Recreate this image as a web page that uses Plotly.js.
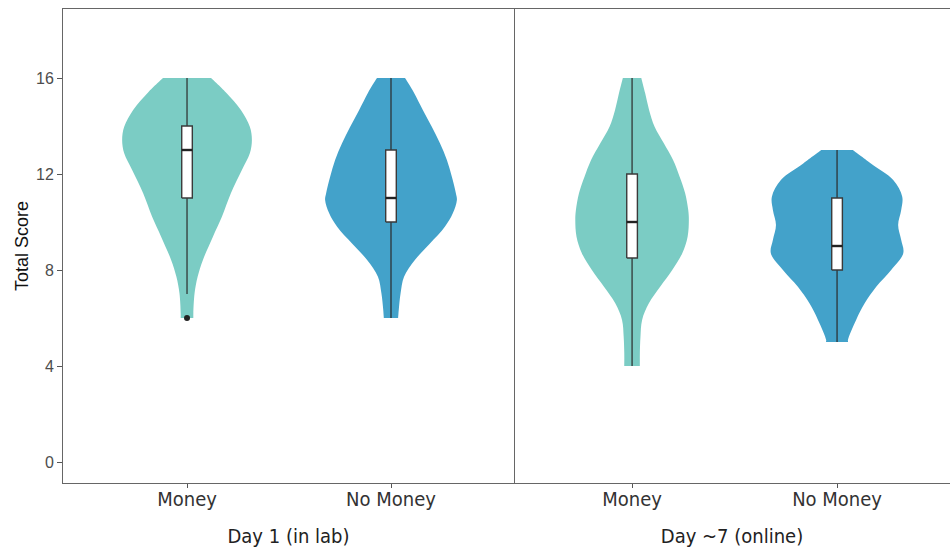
<!DOCTYPE html>
<html>
<head>
<meta charset="utf-8">
<script src="https://cdn.plot.ly/plotly-3.0.1.min.js"></script>
<style>html,body{margin:0;padding:0;background:#fff;}#chart{width:950px;height:548px;}</style>
</head>
<body>
<div id="chart"></div>
<script>
// ---- data ----
const categories = ['Money', 'No Money'];
const panels = ['Day 1 (in lab)', 'Day ~7 (online)'];
const yTicks = [0, 4, 8, 12, 16];

// violin outlines: score levels and half-width of density (category units)
const d1MoneyScore = [6, 6.2, 7.03, 7.72, 8.42, 9.39, 10.22, 11.2, 12.17, 12.86, 13.42, 13.97, 14.67, 15.4, 16];
const d1MoneyHalf  = [0.031, 0.031, 0.037, 0.052, 0.078, 0.127, 0.171, 0.215, 0.269, 0.308, 0.318, 0.308, 0.264, 0.191, 0.118];

const d1NoMoneyScore = [6, 6.33, 7.03, 7.72, 8.42, 9.1, 9.8, 10.36, 10.92, 11.2, 11.9, 12.58, 13.28, 13.97, 14.67, 15.4, 16];
const d1NoMoneyHalf  = [0.035, 0.038, 0.047, 0.064, 0.117, 0.191, 0.264, 0.303, 0.323, 0.318, 0.298, 0.274, 0.240, 0.200, 0.156, 0.112, 0.069];

const d7MoneyScore = [4, 4.53, 5.22, 5.92, 6.61, 7.3, 8.0, 8.7, 9.39, 10.08, 10.5, 11.2, 11.89, 12.58, 13.28, 13.97, 14.67, 15.36, 16];
const d7MoneyHalf  = [0.038, 0.038, 0.041, 0.049, 0.082, 0.137, 0.196, 0.245, 0.271, 0.277, 0.274, 0.259, 0.232, 0.200, 0.155, 0.110, 0.083, 0.064, 0.045];

const d7NoMoneyScore = [5, 5.08, 5.92, 6.6, 7.3, 8.0, 8.7, 9.25, 9.875, 10.5, 11.05, 11.75, 12.44, 13];
const d7NoMoneyHalf  = [0.054, 0.053, 0.093, 0.134, 0.191, 0.264, 0.323, 0.313, 0.298, 0.313, 0.318, 0.274, 0.165, 0.077];

// box statistics: [lower whisker, q1, median, q3, upper whisker]
const d1MoneyBox   = [7, 11, 13, 14, 16];
const d1NoMoneyBox = [6, 10, 11, 13, 16];
const d7MoneyBox   = [4, 8.5, 10, 12, 16];
const d7NoMoneyBox = [5, 8, 9, 11, 13];
const d1MoneyOutliers = [6];

const colors = ['#7bccc4', '#43a2ca'];
const BOXW = 0.052;

function violin(pos, score, half, color, xa, ya) {
  const n = score.length, xs = [], ys = [];
  const add = (x, y) => { xs.push(x); ys.push(y); };
  add(pos - half[0], score[0]);
  add(pos + half[0], score[0]); add(pos + half[0], score[0]);
  for (let i = 1; i < n - 1; i++) add(pos + half[i], score[i]);
  add(pos + half[n - 1], score[n - 1]); add(pos + half[n - 1], score[n - 1]);
  add(pos - half[n - 1], score[n - 1]); add(pos - half[n - 1], score[n - 1]);
  for (let i = n - 2; i >= 1; i--) add(pos - half[i], score[i]);
  add(pos - half[0], score[0]); add(pos - half[0], score[0]);
  return {type: 'scatter', mode: 'lines', x: xs, y: ys, fill: 'toself', fillcolor: color,
          line: {width: 0, shape: 'spline', smoothing: 1, simplify: false, color: color}, hoverinfo: 'skip',
          xaxis: xa, yaxis: ya, showlegend: false};
}
function boxTraces(pos, st, xa, ya) {
  const l = pos - BOXW / 2, r = pos + BOXW / 2;
  return [
    {type: 'scatter', mode: 'lines', x: [pos, pos, null, pos, pos], y: [st[0], st[1], null, st[3], st[4]],
     line: {color: '#2b2b2b', width: 1.2}, xaxis: xa, yaxis: ya, showlegend: false, hoverinfo: 'skip'},
    {type: 'scatter', mode: 'lines', x: [l, r, r, l, l], y: [st[1], st[1], st[3], st[3], st[1]],
     fill: 'toself', fillcolor: '#ffffff', line: {color: '#3a3a3a', width: 1.4},
     xaxis: xa, yaxis: ya, showlegend: false, hoverinfo: 'skip'},
    {type: 'scatter', mode: 'lines', x: [l, r], y: [st[2], st[2]],
     line: {color: '#222222', width: 2.4}, xaxis: xa, yaxis: ya, showlegend: false, hoverinfo: 'skip'}
  ];
}

const traces = [
  violin(0, d1MoneyScore, d1MoneyHalf, colors[0], 'x', 'y'),
  violin(1, d1NoMoneyScore, d1NoMoneyHalf, colors[1], 'x', 'y'),
  violin(0, d7MoneyScore, d7MoneyHalf, colors[0], 'x2', 'y2'),
  violin(1, d7NoMoneyScore, d7NoMoneyHalf, colors[1], 'x2', 'y2'),
  ...boxTraces(0, d1MoneyBox, 'x', 'y'), ...boxTraces(1, d1NoMoneyBox, 'x', 'y'),
  ...boxTraces(0, d7MoneyBox, 'x2', 'y2'), ...boxTraces(1, d7NoMoneyBox, 'x2', 'y2'),
  {type: 'scatter', mode: 'markers', x: d1MoneyOutliers.map(() => 0), y: d1MoneyOutliers,
   marker: {color: '#222222', size: 6}, xaxis: 'x', yaxis: 'y', showlegend: false, hoverinfo: 'skip'}
];

const FONT = 'Liberation Sans, Arial, Helvetica, sans-serif';
const NARROW = 'DejaVu Sans Condensed, Liberation Sans Narrow, sans-serif';
const split = 451 / 887;
const xcommon = {
  tickvals: [0, 1], ticktext: categories, ticks: 'outside', ticklen: 4, tickcolor: '#555', tickwidth: 1,
  showline: true, mirror: true, linecolor: '#666', linewidth: 1, zeroline: false, showgrid: false,
  tickfont: {family: NARROW, size: 20, color: '#333'}, ticklabelstandoff: -6, fixedrange: true
};
const layout = {
  width: 950, height: 548,
  margin: {l: 63, r: 0, t: 9, b: 65},
  paper_bgcolor: '#ffffff', plot_bgcolor: '#ffffff',
  font: {family: FONT},
  showlegend: false,
  xaxis: Object.assign({}, xcommon, {domain: [0, split], range: [-0.608, 1.603], anchor: 'y',
    title: {text: panels[0], font: {family: NARROW, size: 20, color: '#222'}, standoff: 18}}),
  xaxis2: Object.assign({}, xcommon, {domain: [split, 1], range: [-0.576, 1.551], anchor: 'y2',
    title: {text: panels[1], font: {family: NARROW, size: 20, color: '#222'}, standoff: 18}}),
  yaxis: {range: [-0.875, 18.875], tickvals: yTicks, ticks: 'outside', ticklen: 5, tickcolor: '#555',
    showline: true, mirror: true, linecolor: '#666', linewidth: 1, zeroline: false, showgrid: false,
    tickfont: {family: FONT, size: 16, color: '#4d4d4d'}, anchor: 'x',
    title: {text: 'Total Score', font: {family: FONT, size: 18, color: '#111'}, standoff: 2}},
  yaxis2: {range: [-0.875, 18.875], matches: 'y', anchor: 'x2', showline: false, showticklabels: false,
    ticks: '', zeroline: false, showgrid: false}
};

Plotly.newPlot('chart', traces, layout, {displayModeBar: false, staticPlot: true});
</script>
</body>
</html>
